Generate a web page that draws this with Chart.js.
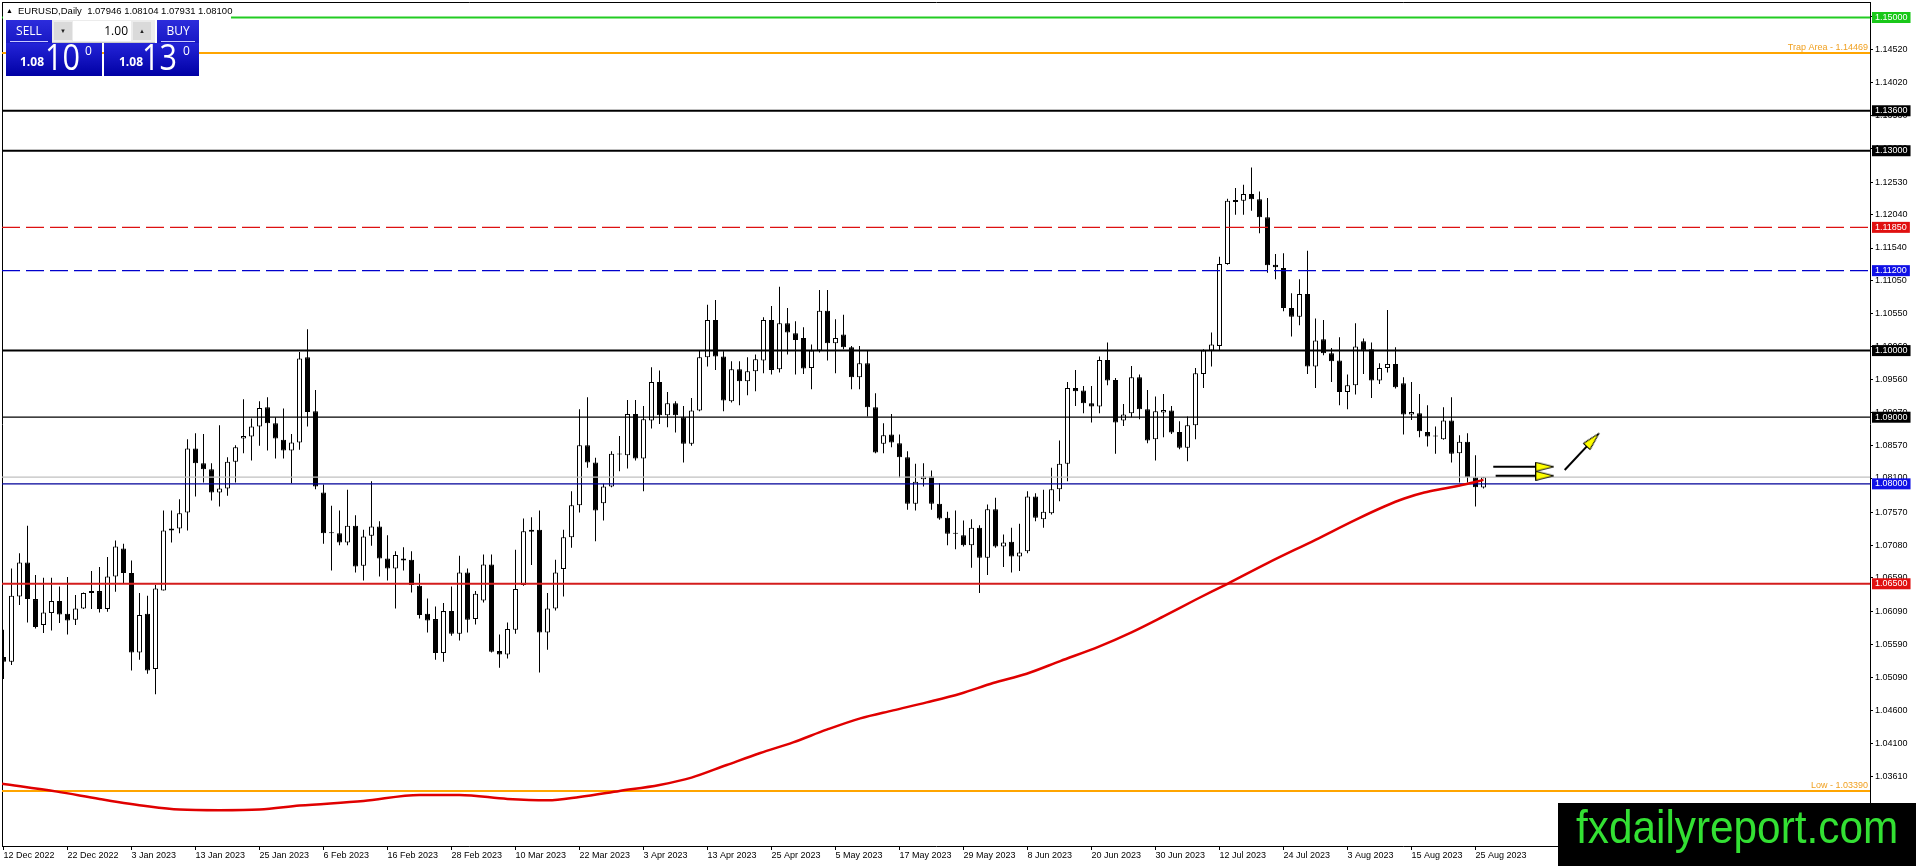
<!DOCTYPE html>
<html>
<head>
<meta charset="utf-8">
<title>EURUSD Daily</title>
<script src="https://cdn.jsdelivr.net/npm/chart.js@4.4.0/dist/chart.umd.min.js"></script>
<style>
  html, body { margin: 0; padding: 0; background: #fff; }
  #wrap { position: relative; width: 1916px; height: 866px; overflow: hidden; font-family: "Liberation Sans", Arial, sans-serif; }
  #chart { position: absolute; left: 0; top: 0; }
  .abs { position: absolute; }
  #title { left: 3px; top: 3px; width: 228px; height: 16px; background: #fff; font-size: 9.5px; line-height: 16px; color: #000; white-space: nowrap; }
  #title .tri { position: absolute; left: 3px; top: 0; font-size: 7px; }
  #title .txt { position: absolute; left: 15px; top: 0; }
  .lbl { top: 20px; height: 23px; background: linear-gradient(#2c2cdc, #1818c4); color: #fff; font-family: "Open Sans", sans-serif; font-size: 12px; line-height: 22px; text-align: center; }
  .lbl i { position: absolute; left: 4px; right: 4px; bottom: 1px; height: 1px; background: #c8c8ff; }
  #lot { left: 52px; top: 20px; width: 103px; height: 22px; background: #ececec; border-bottom: 1px solid #c8c8c8; }
  .spin { top: 2px; width: 18px; height: 18px; background: #dadada; font-size: 6px; line-height: 18px; text-align: center; color: #222; }
  #lotval { left: 21px; top: 1px; width: 58px; height: 20px; background: #fff; font-family: "Open Sans", sans-serif; font-size: 12px; line-height: 20px; text-align: right; color: #000; box-sizing: border-box; padding-right: 3px; }
  .price { top: 43px; height: 33px; background: linear-gradient(#2424d8, #0000a4); color: #fff; font-family: "Open Sans", sans-serif; }
  .price .sm { position: absolute; top: 13px; font-size: 12px; font-weight: bold; line-height: 12px; }
  .price .big { position: absolute; top: -4px; font-size: 36px; line-height: 36px; transform: scaleX(0.85); transform-origin: 0 0; }
  .price .sup { position: absolute; top: 2px; font-size: 12px; line-height: 12px; }
  #brand { left: 1558px; top: 803px; width: 358px; height: 63px; background: #000; }
  #brand span { position: absolute; left: 18px; top: 1px; font-family: "Liberation Sans", Arial, sans-serif; font-size: 46px; line-height: 46px; color: #33e033; transform: scaleX(0.92); transform-origin: 0 0; white-space: nowrap; }
</style>
</head>
<body>
<div id="wrap">
  <canvas id="chart" width="1916" height="866"></canvas>

  <div id="title" class="abs"><span class="tri">▲</span><span class="txt">EURUSD,Daily&nbsp; 1.07946 1.08104 1.07931 1.08100</span></div>

  <!-- one click trading panel -->
  <div class="abs lbl" style="left:6px;width:46px;">SELL<i></i></div>
  <div id="lot" class="abs">
    <div class="abs spin" style="left:2px;">▼</div>
    <div id="lotval" class="abs">1.00</div>
    <div class="abs spin" style="left:81px;">▲</div>
  </div>
  <div class="abs lbl" style="left:157px;width:42px;">BUY<i></i></div>
  <div class="abs price" style="left:6px;width:96px;">
    <span class="sm" style="left:14px;">1.08</span><span class="big" style="left:39px;">10</span><span class="sup" style="left:79px;">0</span>
  </div>
  <div class="abs price" style="left:104px;width:95px;">
    <span class="sm" style="left:15px;">1.08</span><span class="big" style="left:38px;">13</span><span class="sup" style="left:79px;">0</span>
  </div>

  <div id="brand" class="abs"><span>fxdailyreport.com</span></div>
</div>

<script>
// date labels under the chart, one every 8 bars
const dateLabels = [
  "12 Dec 2022", "22 Dec 2022", "3 Jan 2023", "13 Jan 2023", "25 Jan 2023", "6 Feb 2023",
  "16 Feb 2023", "28 Feb 2023", "10 Mar 2023", "22 Mar 2023", "3 Apr 2023", "13 Apr 2023",
  "25 Apr 2023", "5 May 2023", "17 May 2023", "29 May 2023", "8 Jun 2023", "20 Jun 2023",
  "30 Jun 2023", "12 Jul 2023", "24 Jul 2023", "3 Aug 2023", "15 Aug 2023", "25 Aug 2023"
];
const labelStep = 8;

// daily candles
const opens = [
  1.0540,1.0533,1.0631,1.0682,1.0627,1.0588,1.0606,1.0624,1.0605,1.0596,
  1.0613,1.0636,1.0639,1.0612,1.0661,1.0703,1.0666,1.0547,1.0605,1.0522,
  1.0640,1.0730,1.0733,1.0757,1.0853,1.0831,1.0822,1.0787,1.0793,1.0833,
  1.0868,1.0871,1.0886,1.0915,1.0891,1.0866,1.0850,1.0862,1.0990,1.0909,
  1.0787,1.0726,1.0726,1.0712,1.0737,1.0677,1.0722,1.0736,1.0688,1.0673,
  1.0688,1.0686,1.0647,1.0605,1.0597,1.0546,1.0609,1.0575,1.0667,1.0597,
  1.0625,1.0679,1.0549,1.0544,1.0581,1.0648,1.0728,1.0731,1.0577,1.0613,
  1.0672,1.0720,1.0768,1.0858,1.0832,1.0771,1.0796,1.0844,1.0843,1.0905,
  1.0838,1.0895,1.0953,1.0903,1.0921,1.0900,1.0860,1.0910,1.0990,1.1046,
  1.0991,1.0924,1.0972,1.0954,1.0969,1.0985,1.1046,1.0972,1.1041,1.1026,
  1.1019,1.0974,1.1000,1.1060,1.1011,1.1024,1.1005,1.0960,1.0981,1.0915,
  1.0860,1.0874,1.0861,1.0840,1.0770,1.0807,1.0811,1.0770,1.0749,1.0725,
  1.0723,1.0708,1.0734,1.0689,1.0762,1.0706,1.0713,1.0691,1.0699,1.0781,
  1.0747,1.0756,1.0792,1.0830,1.0944,1.0940,1.0921,1.0916,1.0986,1.0956,
  1.0895,1.0906,1.0960,1.0912,1.0867,1.0907,1.0910,1.0878,1.0854,1.0888,
  1.0965,1.1000,1.1007,1.1130,1.1223,1.1225,1.1235,1.1227,1.1200,1.1129,
  1.1124,1.1064,1.1051,1.1085,1.0976,1.1017,1.0996,1.0985,1.0938,1.0948,
  1.1014,1.1002,1.0955,1.0974,1.0980,1.0951,1.0904,1.0906,1.0878,1.0871,
  1.0867,1.0895,1.0846,1.0863,1.0810,1.07946
];
const highs = [
  1.0581,1.0673,1.0696,1.0737,1.0663,1.0659,1.0659,1.0646,1.0660,1.0633,
  1.0637,1.0669,1.0675,1.0690,1.0715,1.0710,1.0685,1.0636,1.0632,1.0648,
  1.0760,1.0760,1.0777,1.0867,1.0876,1.0875,1.0831,1.0888,1.0840,1.0858,
  1.0927,1.0898,1.0924,1.0930,1.0900,1.0913,1.0875,1.0998,1.1032,1.0941,
  1.0799,1.0767,1.0760,1.0791,1.0753,1.0731,1.0804,1.0744,1.0723,1.0699,
  1.0705,1.0699,1.0665,1.0628,1.0616,1.0621,1.0646,1.0692,1.0673,1.0639,
  1.0694,1.0694,1.0574,1.0592,1.0701,1.0748,1.0750,1.0760,1.0636,1.0686,
  1.0731,1.0789,1.0912,1.0930,1.0839,1.0800,1.0849,1.0872,1.0926,1.0926,
  1.0917,1.0975,1.0970,1.0938,1.0924,1.0917,1.0929,1.1000,1.1069,1.1076,
  1.0999,1.0984,1.0984,1.0990,1.0994,1.1050,1.1067,1.1096,1.1064,1.1044,
  1.1035,1.1009,1.1091,1.1091,1.1047,1.1054,1.1007,1.1007,1.1000,1.0936,
  1.0891,1.0905,1.0874,1.0849,1.0830,1.0831,1.0820,1.0801,1.0758,1.0760,
  1.0745,1.0747,1.0738,1.0769,1.0779,1.0724,1.0734,1.0740,1.0789,1.0786,
  1.0791,1.0824,1.0865,1.0953,1.0971,1.0947,1.0947,1.0991,1.1012,1.0959,
  1.0920,1.0977,1.0964,1.0941,1.0931,1.0935,1.0917,1.0894,1.0901,1.0974,
  1.1002,1.1027,1.1141,1.1228,1.1244,1.1249,1.1275,1.1239,1.1229,1.1145,
  1.1146,1.1086,1.1107,1.1150,1.1048,1.1046,1.1004,1.1020,1.0964,1.1041,
  1.1018,1.1012,1.0981,1.1061,1.1005,1.0960,1.0953,1.0935,1.0918,1.0886,
  1.0915,1.0930,1.0873,1.0876,1.0843,1.08104
];
const lows = [
  1.0507,1.0528,1.0618,1.0592,1.0583,1.0576,1.0580,1.0591,1.0574,1.0588,
  1.0612,1.0612,1.0607,1.0608,1.0638,1.0651,1.0520,1.0536,1.0515,1.0484,
  1.0640,1.0712,1.0726,1.0730,1.0781,1.0802,1.0775,1.0766,1.0782,1.0802,
  1.0846,1.0835,1.0857,1.0850,1.0838,1.0838,1.0801,1.0851,1.0886,1.0792,
  1.0710,1.0670,1.0708,1.0708,1.0667,1.0655,1.0707,1.0661,1.0655,1.0613,
  1.0670,1.0637,1.0598,1.0577,1.0536,1.0533,1.0572,1.0565,1.0577,1.0589,
  1.0622,1.0547,1.0524,1.0538,1.0575,1.0647,1.0678,1.0517,1.0551,1.0610,
  1.0631,1.0704,1.0757,1.0824,1.0714,1.0745,1.0795,1.0819,1.0823,1.0835,
  1.0789,1.0883,1.0890,1.0885,1.0877,1.0832,1.0857,1.0909,1.0976,1.0971,
  1.0909,1.0922,1.0918,1.0933,1.0939,1.0966,1.0964,1.0967,1.0994,1.0964,
  1.0965,1.0942,1.0997,1.0985,1.0966,1.1002,1.0942,1.0942,1.0901,1.0846,
  1.0846,1.0855,1.0809,1.0761,1.0760,1.0796,1.0761,1.0746,1.0708,1.0702,
  1.0706,1.0674,1.0636,1.0663,1.0704,1.0675,1.0667,1.0669,1.0696,1.0744,
  1.0734,1.0754,1.0774,1.0804,1.0917,1.0906,1.0892,1.0906,1.0948,1.0845,
  1.0887,1.0900,1.0897,1.0861,1.0835,1.0870,1.0875,1.0852,1.0834,1.0867,
  1.0944,1.0976,1.1000,1.1129,1.1204,1.1204,1.1210,1.1176,1.1117,1.1107,
  1.1059,1.1021,1.1038,1.0965,1.0944,1.0993,1.0953,1.0918,1.0912,1.0934,
  1.0965,1.0929,1.0950,1.0967,1.0943,1.0874,1.0896,1.0870,1.0856,1.0845,
  1.0866,1.0832,1.0802,1.0802,1.0766,1.07931
];
const closes = [
  1.0533,1.0632,1.0682,1.0627,1.0585,1.0607,1.0624,1.0604,1.0595,1.0613,
  1.0636,1.0639,1.0612,1.0661,1.0706,1.0666,1.0547,1.0603,1.0520,1.0643,
  1.0730,1.0733,1.0756,1.0853,1.0831,1.0822,1.0787,1.0793,1.0833,1.0855,
  1.0872,1.0886,1.0914,1.0891,1.0868,1.0850,1.0862,1.0988,1.0908,1.0796,
  1.0726,1.0727,1.0712,1.0737,1.0676,1.0721,1.0736,1.0688,1.0673,1.0693,
  1.0685,1.0648,1.0603,1.0595,1.0546,1.0609,1.0575,1.0667,1.0596,1.0635,
  1.0679,1.0548,1.0544,1.0582,1.0642,1.0729,1.0731,1.0577,1.0613,1.0667,
  1.0720,1.0768,1.0858,1.0832,1.0760,1.0796,1.0845,1.0845,1.0905,1.0838,
  1.0897,1.0953,1.0903,1.0921,1.0903,1.0860,1.0910,1.0990,1.1046,1.0991,
  1.0925,1.0972,1.0954,1.0969,1.0987,1.1046,1.0971,1.1041,1.1027,1.1016,
  1.0973,1.1000,1.1060,1.1011,1.1019,1.1005,1.0960,1.0981,1.0915,1.0847,
  1.0873,1.0862,1.0840,1.0770,1.0803,1.0811,1.0770,1.0748,1.0725,1.0725,
  1.0708,1.0734,1.0689,1.0762,1.0706,1.0712,1.0691,1.0697,1.0781,1.0749,
  1.0758,1.0792,1.0830,1.0944,1.0939,1.0921,1.0916,1.0986,1.0955,1.0892,
  1.0904,1.0960,1.0912,1.0865,1.0909,1.0911,1.0877,1.0854,1.0888,1.0966,
  1.1000,1.1009,1.1130,1.1225,1.1226,1.1235,1.1227,1.1200,1.1128,1.1125,
  1.1064,1.1051,1.1085,1.0976,1.1015,1.0996,1.0984,1.0938,1.0948,1.1006,
  1.1000,1.0955,1.0974,1.0980,1.0945,1.0904,1.0908,1.0879,1.0871,1.0872,
  1.0895,1.0845,1.0863,1.0810,1.0795,1.08100
];

// red moving average, sampled along the curve (bar index, price)
const maBars   = [-0.2, 6.7, 12, 18, 22, 27, 32, 37, 45, 52, 57, 63, 68, 72, 77, 82, 86, 90.4,
                  94.6, 98.7, 102.9, 107.1, 111.2, 115.4, 119.6, 123.7, 127.9, 132.1, 137,
                  141, 145, 149, 153, 158, 164, 169, 172.6, 175.1, 177.6, 180.1, 182.6, 185];
const maValues = [1.0350, 1.0338, 1.0327, 1.0316, 1.0311, 1.0310, 1.0311, 1.0317, 1.0324, 1.0333,
                  1.0333, 1.0327, 1.0325, 1.0330, 1.0339, 1.0348, 1.0359, 1.0378,
                  1.0396, 1.0412, 1.0431, 1.0448, 1.0460, 1.0472, 1.0485, 1.0501, 1.0515,
                  1.0534, 1.0556, 1.0577, 1.0601, 1.0626, 1.0650, 1.0681, 1.0716, 1.0746,
                  1.0766, 1.0778, 1.0787, 1.0793, 1.0799, 1.0806];

// regular price scale labels on the right
const priceTicks = [
  1.15010, 1.14520, 1.14020, 1.13530, 1.13030, 1.12530, 1.12040, 1.11540, 1.11050,
  1.10550, 1.10060, 1.09560, 1.09070, 1.08570, 1.08080, 1.07570, 1.07080, 1.06590,
  1.06090, 1.05590, 1.05090, 1.04600, 1.04100, 1.03610, 1.03120
];

// horizontal levels drawn on the chart
const levelValues = [1.15, 1.14469, 1.136, 1.13, 1.1185, 1.112, 1.10, 1.09, 1.081, 1.08, 1.065, 1.0339];
// levels that also carry a price box on the axis
const boxLevels = [1.15, 1.136, 1.13, 1.1185, 1.112, 1.10, 1.09, 1.081, 1.08, 1.065];
// text notes sitting on two of the levels
const noteTexts = ["Trap Area - 1.14469", "Low - 1.03390"];
const noteValues = [1.14469, 1.0339];

// arrows drawn near the last candle (bar index, price)
const arrowFromX = [186.22, 186.52, 195.15];
const arrowFromY = [1.08257, 1.08122, 1.08208];
const arrowToX   = [192.66, 192.66, 198.67];
const arrowToY   = [1.08257, 1.08122, 1.08660];

// styles
const levelStyles = [
  { color: "#22cc22", width: 2 },
  { color: "#ffa500", width: 2 },
  { color: "#000000", width: 2 },
  { color: "#000000", width: 2 },
  { color: "#dd1111", width: 1.4, dash: [18, 6] },
  { color: "#0000cc", width: 1.4, dash: [18, 6] },
  { color: "#000000", width: 2 },
  { color: "#000000", width: 1.3 },
  { color: "#c0c0c0", width: 1.2 },
  { color: "#000099", width: 1.3 },
  { color: "#d41c1c", width: 2 },
  { color: "#ffa500", width: 2 }
];
const boxStyles = [
  { bg: "#19c819", fg: "#ffffff" },
  { bg: "#000000", fg: "#ffffff" },
  { bg: "#000000", fg: "#ffffff" },
  { bg: "#e01010", fg: "#ffffff" },
  { bg: "#1010e6", fg: "#ffffff" },
  { bg: "#000000", fg: "#ffffff" },
  { bg: "#000000", fg: "#ffffff" },
  { bg: "#ffffff", fg: "#000000" },
  { bg: "#1010e6", fg: "#ffffff" },
  { bg: "#e01010", fg: "#ffffff" }
];
const arrowAngles = [0, 0, -47];

// visible window: 8 px per bar, price scale from the picture
const X_MIN = -0.1875;
const X_MAX = 233.3125;
const Y_MAX = 1.152327;
const Y_MIN = 1.025638;

Chart.defaults.font.family = "Liberation Sans";
Chart.defaults.color = "#000";

// yellow arrow head used as point image
function makeArrowHead() {
  const c = document.createElement("canvas");
  c.width = 19;
  c.height = 10;
  const g = c.getContext("2d");
  g.beginPath();
  g.moveTo(0.5, 0.5);
  g.lineTo(18.5, 5);
  g.lineTo(0.5, 9.5);
  g.closePath();
  g.fillStyle = "#ffff00";
  g.fill();
  g.strokeStyle = "#000";
  g.lineWidth = 1;
  g.stroke();
  return c;
}
const arrowHead = makeArrowHead();

// candle datasets
const bars = opens.map((_, i) => i);
const wickData = bars.map(i => ({ x: i, y: [lows[i], highs[i]] }));
const bodyData = bars.map(i => ({ x: i, y: [opens[i], closes[i]] }));
const bodyFill = bars.map(i => closes[i] >= opens[i] ? "#ffffff" : "#000000");

const datasets = [];

// arrows on top
arrowFromX.forEach((x, k) => {
  datasets.push({
    type: "line",
    data: [{ x: x, y: arrowFromY[k] }, { x: arrowToX[k], y: arrowToY[k] }],
    borderColor: "#000",
    borderWidth: 2,
    pointRadius: [0, 5],
    pointStyle: ["circle", arrowHead],
    pointRotation: [0, arrowAngles[k]],
    order: 0
  });
});

// moving average
datasets.push({
  type: "line",
  data: maBars.map((b, k) => ({ x: b, y: maValues[k] })),
  borderColor: "#e00000",
  borderWidth: 2.5,
  pointRadius: 0,
  cubicInterpolationMode: "monotone",
  order: 1
});

// horizontal levels
levelValues.forEach((v, k) => {
  datasets.push({
    type: "line",
    data: [{ x: X_MIN, y: v }, { x: X_MAX, y: v }],
    borderColor: levelStyles[k].color,
    borderWidth: levelStyles[k].width,
    borderDash: levelStyles[k].dash || [],
    pointRadius: 0,
    order: 2
  });
});

// candle bodies over wicks
datasets.push({
  type: "bar",
  data: bodyData,
  backgroundColor: bodyFill,
  borderColor: "#000",
  borderWidth: 1,
  borderSkipped: false,
  barThickness: 5,
  minBarLength: 1,
  inflateAmount: 0,
  grouped: false,
  order: 4
});
datasets.push({
  type: "bar",
  data: wickData,
  backgroundColor: "#000",
  borderWidth: 0,
  barThickness: 1,
  inflateAmount: 0,
  grouped: false,
  order: 5
});

// orange notes written just above their levels
const levelNotes = {
  id: "levelNotes",
  afterDatasetsDraw(chart) {
    const { ctx, chartArea, scales } = chart;
    ctx.save();
    ctx.font = '9px "Liberation Sans"';
    ctx.fillStyle = "#f0a020";
    ctx.textAlign = "right";
    ctx.textBaseline = "bottom";
    noteTexts.forEach((t, k) => {
      ctx.fillText(t, chartArea.right - 2, scales.y.getPixelForValue(noteValues[k]) - 1);
    });
    ctx.restore();
  }
};

const nTicks = priceTicks.length;
const boxOf = ctx => ctx.index >= nTicks ? boxStyles[ctx.index - nTicks] : null;

new Chart(document.getElementById("chart"), {
  type: "bar",
  data: { datasets: datasets },
  plugins: [levelNotes],
  options: {
    responsive: false,
    devicePixelRatio: 1,
    animation: false,
    events: [],
    layout: { padding: { left: 2, top: 2, right: 0, bottom: 0 }, autoPadding: false },
    plugins: {
      legend: { display: false },
      tooltip: { enabled: false }
    },
    scales: {
      x: {
        type: "linear",
        position: "bottom",
        min: X_MIN,
        max: X_MAX,
        offset: false,
        afterBuildTicks: s => { s.ticks = dateLabels.map((_, k) => ({ value: k * labelStep })); },
        afterFit: s => { s.height = 20; s.paddingLeft = 0; s.paddingRight = 0; },
        border: { display: true, color: "#000", width: 1 },
        grid: { drawOnChartArea: false, offset: false, tickLength: 4, tickColor: "#000" },
        ticks: {
          autoSkip: false,
          maxRotation: 0,
          align: "start",
          padding: 0,
          color: "#000",
          font: { size: 9 },
          callback: (v, i) => dateLabels[i]
        }
      },
      y: {
        type: "linear",
        position: "right",
        min: Y_MIN,
        max: Y_MAX,
        afterBuildTicks: s => { s.ticks = priceTicks.concat(boxLevels).map(v => ({ value: v })); },
        afterFit: s => { s.width = 46; s.paddingTop = 0; s.paddingBottom = 0; },
        border: { display: true, color: "#000", width: 1 },
        grid: {
          drawOnChartArea: false,
          tickLength: 3,
          tickColor: ctx => boxOf(ctx) ? "rgba(0,0,0,0)" : "#000"
        },
        ticks: {
          autoSkip: false,
          padding: 2,
          font: { size: 9, lineHeight: 1 },
          callback: v => v.toFixed(5),
          color: ctx => boxOf(ctx) ? boxOf(ctx).fg : "#000",
          showLabelBackdrop: ctx => !!boxOf(ctx),
          backdropColor: ctx => boxOf(ctx) ? boxOf(ctx).bg : "rgba(0,0,0,0)",
          backdropPadding: { top: 1, bottom: 1, left: 3, right: 3 }
        }
      },
      // frame lines on the top and left
      xTop: {
        type: "linear",
        position: "top",
        display: true,
        afterFit: s => { s.height = 0; },
        border: { display: true, color: "#000", width: 1 },
        grid: { display: false, drawTicks: false },
        ticks: { display: false }
      },
      yLeft: {
        type: "linear",
        position: "left",
        display: true,
        afterFit: s => { s.width = 0; },
        border: { display: true, color: "#000", width: 1 },
        grid: { display: false, drawTicks: false },
        ticks: { display: false }
      }
    }
  }
});
</script>
</body>
</html>
